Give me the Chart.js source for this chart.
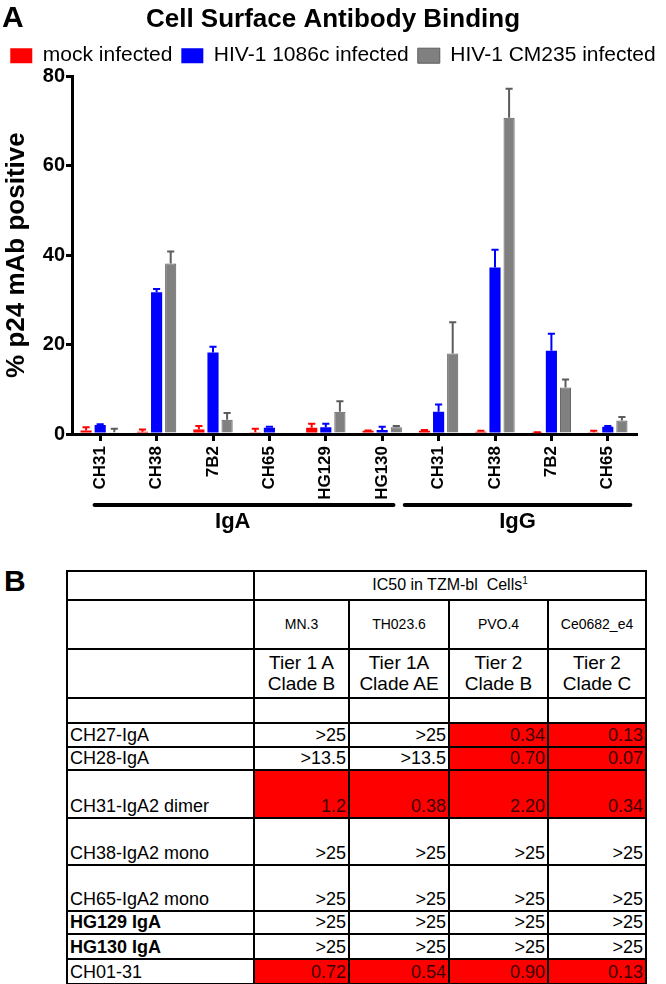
<!DOCTYPE html>
<html>
<head>
<meta charset="utf-8">
<script src="https://cdn.jsdelivr.net/npm/chart.js@4.4.1/dist/chart.umd.min.js"></script>
<style>
  body { margin: 0; background: #fff; font-family: "Liberation Sans", Arial, sans-serif; }
  #wrap { position: relative; width: 666px; height: 984px; overflow: hidden; }
  #bindingChart { position: absolute; left: 0; top: 0; }
  .panel { position: absolute; font-weight: bold; font-size: 30px; line-height: 1; color: #000; }
  #ic50 { position: absolute; left: 66px; top: 570px; width: 579px; border-collapse: collapse; table-layout: fixed; }
  #ic50 td { border: 2px solid #000; padding: 0 2px 1px 2px; font-size: 18px; line-height: 1.05;
             vertical-align: bottom; white-space: nowrap; overflow: hidden; color: #000; }
  #ic50 td.num { text-align: right; }
  #ic50 td.hit { background: #ff0000; color: #3a0000; }
  #ic50 td.head { text-align: center; vertical-align: middle; font-size: 16px; }
  #ic50 td.strain { text-align: center; vertical-align: middle; font-size: 14px; }
  #ic50 td.tier { text-align: center; vertical-align: middle; font-size: 19px; line-height: 1.12; white-space: normal; }
  #ic50 td.bold { font-weight: bold; }
</style>
</head>
<body>
<div id="wrap">
  <canvas id="bindingChart" width="666" height="545"></canvas>
  <div class="panel" style="left:2px; top:2px;">A</div>
  <div class="panel" style="left:4px; top:566px;">B</div>
  <table id="ic50"></table>
</div>
<script>
// panel A data
const categories = ['CH31', 'CH38', '7B2', 'CH65', 'HG129', 'HG130', 'CH31', 'CH38', '7B2', 'CH65'];
const mockInfected = [0.8, 0.5, 1.0, 0.4, 1.4, 0.7, 0.7, 0.5, 0.3, 0.4];
const mockErr = [0.7, 0.5, 0.8, 0.8, 0.9, 0.1, 0.2, 0.2, 0.1, 0.3];
const hiv1086c = [2.0, 31.7, 18.2, 1.4, 1.5, 0.9, 5.0, 37.2, 18.6, 1.6];
const hiv1086cErr = [0.2, 0.7, 1.3, 0.2, 0.8, 0.7, 1.6, 4.0, 3.8, 0.2];
const hivCM235 = [0.4, 38.1, 3.2, 0, 5.0, 1.5, 18.0, 70.7, 10.4, 3.0];
const hivCM235Err = [0.8, 2.7, 1.5, 0, 2.3, 0.3, 7.0, 6.5, 1.8, 0.8];
const yTicks = [0, 20, 40, 60, 80];
const groupNames = ['IgA', 'IgG'];
const groupFirst = [0, 6];
const groupLast = [5, 9];

// panel B data
const strains = ['MN.3', 'TH023.6', 'PVO.4', 'Ce0682_e4'];
const tiers = [['Tier 1 A', 'Clade B'], ['Tier 1A', 'Clade AE'], ['Tier 2', 'Clade B'], ['Tier 2', 'Clade C']];
const antibodies = ['CH27-IgA', 'CH28-IgA', 'CH31-IgA2 dimer', 'CH38-IgA2 mono', 'CH65-IgA2 mono', 'HG129 IgA', 'HG130 IgA', 'CH01-31'];
const boldAntibodies = ['HG129 IgA', 'HG130 IgA'];
const ic50MN3 = ['>25', '>13.5', '1.2', '>25', '>25', '>25', '>25', '0.72'];
const ic50TH023 = ['>25', '>13.5', '0.38', '>25', '>25', '>25', '>25', '0.54'];
const ic50PVO4 = ['0.34', '0.70', '2.20', '>25', '>25', '>25', '>25', '0.90'];
const ic50Ce0682 = ['0.13', '0.07', '0.34', '>25', '>25', '>25', '>25', '0.13'];

Chart.defaults.font.family = '"Liberation Sans", Arial, sans-serif';
Chart.defaults.color = '#000';

// upward-only error bars, Prism style
const errorBars = {
    id: 'errorBars',
    afterDatasetsDraw(chart) {
        const ctx = chart.ctx;
        const yScale = chart.scales.y;
        chart.data.datasets.forEach((ds, i) => {
            const meta = chart.getDatasetMeta(i);
            meta.data.forEach((bar, j) => {
                const err = ds.errors[j];
                if (!err) return;
                const top = yScale.getPixelForValue(ds.data[j] + err);
                const half = bar.width * 0.32;
                ctx.save();
                ctx.strokeStyle = ds.errorColor;
                ctx.lineWidth = 2;
                ctx.beginPath();
                ctx.moveTo(bar.x, bar.y);
                ctx.lineTo(bar.x, top);
                ctx.moveTo(bar.x - half, top);
                ctx.lineTo(bar.x + half, top);
                ctx.stroke();
                ctx.restore();
            });
        });
    }
};

// IgA / IgG brackets under the axis labels
const bracketPad = [[-0.1, 0.2], [-0.6, 0.4]];
const bracketLabelAt = [2.35, 7.4];
const groupBrackets = {
    id: 'groupBrackets',
    afterDraw(chart) {
        const ctx = chart.ctx;
        const xScale = chart.scales.x;
        ctx.save();
        ctx.strokeStyle = '#000';
        ctx.fillStyle = '#000';
        ctx.lineWidth = 4;
        ctx.lineCap = 'round';
        ctx.font = 'bold 22px "Liberation Sans", Arial, sans-serif';
        ctx.textAlign = 'center';
        ctx.textBaseline = 'middle';
        groupNames.forEach((name, g) => {
            const x0 = xScale.getPixelForValue(groupFirst[g] + bracketPad[g][0]);
            const x1 = xScale.getPixelForValue(groupLast[g] + bracketPad[g][1]);
            ctx.beginPath();
            ctx.moveTo(x0, 505);
            ctx.lineTo(x1, 505);
            ctx.stroke();
            ctx.fillText(name, xScale.getPixelForValue(bracketLabelAt[g]), 522);
        });
        ctx.restore();
    }
};

const ctx = document.getElementById('bindingChart').getContext('2d');
const bindingChart = new Chart(ctx, {
    type: 'bar',
    data: {
        labels: categories,
        datasets: [{
            label: 'mock infected',
            data: mockInfected,
            errors: mockErr,
            errorColor: '#ff0000',
            backgroundColor: '#ff0000',
            borderWidth: 0
        }, {
            label: 'HIV-1 1086c infected',
            data: hiv1086c,
            errors: hiv1086cErr,
            errorColor: '#0000ff',
            backgroundColor: '#0000ff',
            borderWidth: 0
        }, {
            label: 'HIV-1 CM235 infected',
            data: hivCM235,
            errors: hivCM235Err,
            errorColor: '#5c5c5c',
            backgroundColor: '#808080',
            borderColor: '#5c5c5c',
            borderWidth: 1
        }]
    },
    options: {
        responsive: false,
        animation: false,
        categoryPercentage: 0.75,
        barPercentage: 0.79,
        layout: { padding: 0 },
        plugins: {
            title: {
                display: true,
                text: 'Cell Surface Antibody Binding',
                color: '#000',
                font: { size: 26, weight: 'bold' },
                padding: { top: 4, bottom: 1 }
            },
            legend: {
                position: 'top',
                labels: {
                    boxWidth: 22,
                    boxHeight: 15,
                    padding: 9,
                    color: '#000',
                    font: { size: 21 }
                }
            },
            tooltip: { enabled: false }
        },
        scales: {
            x: {
                grid: { display: true, drawOnChartArea: false, drawTicks: true, tickLength: 7, lineWidth: 3, color: '#000', offset: false },
                border: { display: true, width: 3, color: '#000' },
                ticks: { autoSkip: false, maxRotation: 90, minRotation: 90, padding: 5, color: '#000', font: { size: 17, weight: 'bold' } },
                afterFit(scale) { scale.height = 111; }
            },
            y: {
                min: yTicks[0],
                max: yTicks[yTicks.length - 1],
                grid: { display: true, drawOnChartArea: false, drawTicks: true, tickLength: 6, lineWidth: 3, color: '#000' },
                border: { display: true, width: 3, color: '#000' },
                ticks: { stepSize: yTicks[1] - yTicks[0], padding: 1, color: '#000', font: { size: 20, weight: 'bold' } },
                title: { display: true, text: '% p24 mAb positive', color: '#000', font: { size: 26, weight: 'bold' }, padding: { top: 1, bottom: 0 } },
                afterFit(scale) { scale.width = 72; }
            },
            yRight: {
                position: 'right',
                display: true,
                grid: { display: false },
                border: { display: false },
                ticks: { display: false },
                afterFit(scale) { scale.width = 30; }
            }
        }
    },
    plugins: [errorBars, groupBrackets]
});

// build the IC50 table
const colWidths = [187, 95, 100, 99, 98];
const rowHeights = [29, 49, 49, 25, 24, 23, 48, 47, 46, 23, 25, 25];
const ic50Columns = [ic50MN3, ic50TH023, ic50PVO4, ic50Ce0682];
const table = document.getElementById('ic50');

let html = '<colgroup>' + colWidths.map(w => '<col style="width:' + w + 'px">').join('') + '</colgroup>';
html += '<tr style="height:' + rowHeights[0] + 'px"><td></td><td class="head" colspan="4">IC50 in TZM-bl&nbsp; Cells<sup style="font-size:10px">1</sup></td></tr>';
html += '<tr style="height:' + rowHeights[1] + 'px"><td></td>' + strains.map(s => '<td class="strain">' + s + '</td>').join('') + '</tr>';
html += '<tr style="height:' + rowHeights[2] + 'px"><td></td>' + tiers.map(t => '<td class="tier">' + t[0] + '<br>' + t[1] + '</td>').join('') + '</tr>';
html += '<tr style="height:' + rowHeights[3] + 'px"><td></td><td></td><td></td><td></td><td></td></tr>';
antibodies.forEach((ab, r) => {
    const cls = boldAntibodies.includes(ab) ? ' class="bold"' : '';
    html += '<tr style="height:' + rowHeights[r + 4] + 'px"><td' + cls + '>' + ab + '</td>';
    ic50Columns.forEach(col => {
        const v = col[r];
        // neutralizing values (no ">") are highlighted red
        const hit = v.charAt(0) !== '>';
        html += '<td class="num' + (hit ? ' hit' : '') + '">' + v + '</td>';
    });
    html += '</tr>';
});
table.innerHTML = html;
</script>
</body>
</html>
